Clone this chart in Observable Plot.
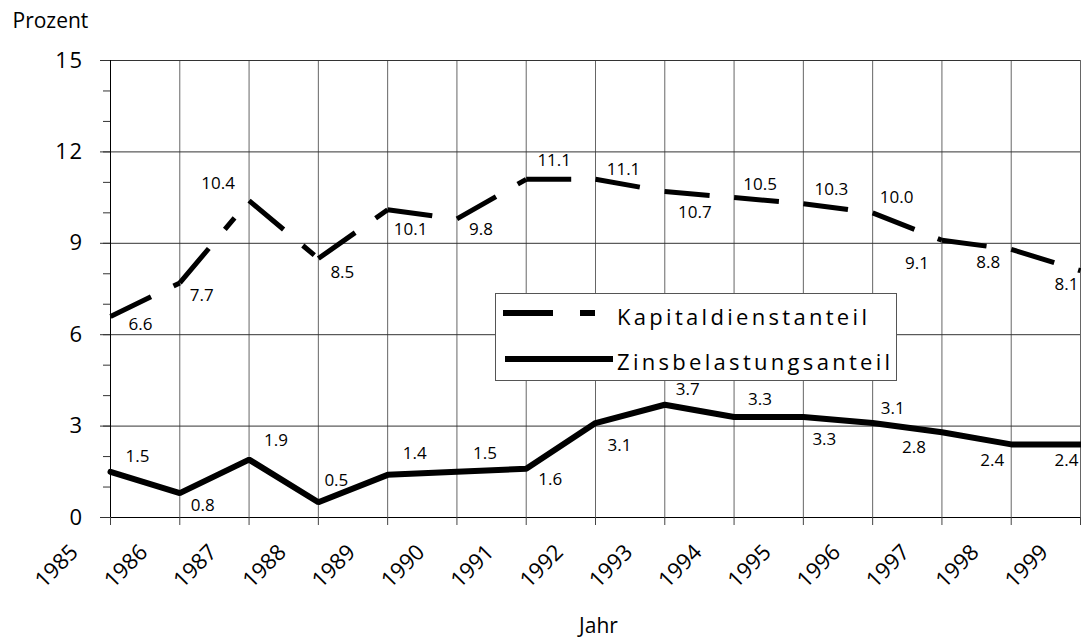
<!DOCTYPE html>
<html>
<head>
<meta charset="utf-8">
<script src="https://cdn.jsdelivr.net/npm/d3@7"></script>
<script src="https://cdn.jsdelivr.net/npm/@observablehq/plot@0.6"></script>
<style>
  html, body { margin: 0; padding: 0; background: #fff; }
  #wrap { position: relative; width: 1081px; height: 639px; font-family: "Open Sans", sans-serif; }
  g[aria-label="data-labels"] text { letter-spacing: 1.5px; }
  g[aria-label="year-labels"] text { letter-spacing: 1px; }
  g[aria-label="y-axis tick label"] text { letter-spacing: 1.5px; }
  g[aria-label="y-title"] text { letter-spacing: 3px; }
  g[aria-label="x-title"] text { letter-spacing: 6px; }
  #legend { position: absolute; left: 495px; top: 293px; width: 402px; height: 88px; background: #fff; border: 1px solid #555; box-sizing: border-box; }
  #legend text { font-family: "Open Sans", sans-serif; font-size: 22px; letter-spacing: 3.3px; fill: #000; }
</style>
</head>
<body>
<div id="wrap"></div>
<script>
const years = [1985,1986,1987,1988,1989,1990,1991,1992,1993,1994,1995,1996,1997,1998,1999];
const kapital = [6.6,7.7,10.4,8.5,10.1,9.8,11.1,11.1,10.7,10.5,10.3,10.0,9.1,8.8,8.1];
const zins = [1.5,0.8,1.9,0.5,1.4,1.5,1.6,3.1,3.7,3.3,3.3,3.1,2.8,2.4,2.4];
const yTicks = [0,3,6,9,12,15];
const seriesNames = ["Kapitaldienstanteil","Zinsbelastungsanteil"];
const xTitle = "Jahr";
const yTitle = "Prozent";
// label placement offsets (pixels) relative to each point
const kapLabelOffsets = [[30,8],[22,13],[-31,-17],[24,14],[23,20],[24,11],[28,-19],[28,-10],[30,21],[26,-13],[28,-14],[24,-15],[-25,23],[-23,13],[-14,14]];
const zinsLabelOffsets = [[27,-15],[23,12],[27,-19],[18,-22],[27,-21],[28,-18],[24,11],[24,22],[23,-15],[26,-17],[21,23],[20,-15],[-28,15],[-19,16],[-14,16]];

const kapSegs = d3.range(years.length - 1).map(i => ({x1: years[i], y1: kapital[i], x2: years[i+1], y2: kapital[i+1]}));
const zinsData = years.map((y, i) => ({year: y, v: zins[i]}));

const labelMarks = [];
years.forEach((yr, i) => {
  labelMarks.push(Plot.text([{x: yr, y: kapital[i]}], {x: "x", y: "y", text: d => d.y.toFixed(1), dx: kapLabelOffsets[i][0], dy: kapLabelOffsets[i][1], fontSize: 17, fill: "#000", ariaLabel: "data-labels"}));
  labelMarks.push(Plot.text([{x: yr, y: zins[i]}], {x: "x", y: "y", text: d => d.y.toFixed(1), dx: zinsLabelOffsets[i][0], dy: zinsLabelOffsets[i][1], fontSize: 17, fill: "#000", ariaLabel: "data-labels"}));
});

const chart = Plot.plot({
  width: 1081,
  height: 639,
  marginLeft: 110,
  marginRight: 1,
  marginTop: 60,
  marginBottom: 122,
  style: {fontFamily: "'Open Sans', sans-serif", background: "#fff", color: "#000"},
  x: {domain: [1985, 1999], axis: null},
  y: {domain: [0, 15], axis: null},
  marks: [
    Plot.gridX(years, {stroke: "#666", strokeOpacity: 1}),
    Plot.gridY(yTicks.filter(d => d > 0), {stroke: "#333", strokeOpacity: 1}),
    Plot.ruleX([1985], {stroke: "#000"}),
    Plot.ruleY([0], {stroke: "#000"}),
    Plot.axisX({ticks: years, tickSize: 8, tickFormat: () => "", label: null, stroke: "#444"}),
    Plot.axisY({ticks: d3.range(0, 16), tickSize: 7, tickFormat: () => "", label: null, stroke: "#333"}),
    Plot.axisY({ticks: yTicks, tickSize: 10, tickPadding: 17, fontSize: 22, label: null, stroke: "#333"}),
    Plot.text(years, {x: d => d, frameAnchor: "bottom", lineAnchor: "bottom", text: d => String(d), rotate: -45, textAnchor: "end", dx: -31, dy: 36, fontSize: 22, fill: "#000", ariaLabel: "year-labels"}),
    Plot.line(zinsData, {x: "year", y: "v", stroke: "#000", strokeWidth: 6, strokeLinejoin: "miter"}),
    Plot.link(kapSegs, {x1: "x1", y1: "y1", x2: "x2", y2: "y2", stroke: "#000", strokeWidth: 5, strokeDasharray: "45,25,15,25", strokeLinecap: "butt"}),
    ...labelMarks,
    Plot.text([yTitle], {frameAnchor: "top-left", lineAnchor: "middle", textAnchor: "start", dx: -98, dy: -39, fontSize: 21, fill: "#000", ariaLabel: "y-title"}),
    Plot.text([xTitle], {frameAnchor: "bottom", lineAnchor: "middle", dy: 109, dx: 3, fontSize: 21, fill: "#000", ariaLabel: "x-title"})
  ]
});

const wrap = document.getElementById("wrap");
wrap.appendChild(chart);

const legend = document.createElement("div");
legend.id = "legend";
legend.innerHTML = `<svg width="400" height="86">
  <line x1="7" y1="19" x2="100" y2="19" stroke="#000" stroke-width="6" stroke-dasharray="50,27,15,27"/>
  <text x="121" y="31">${seriesNames[0]}</text>
  <line x1="9" y1="65" x2="117" y2="65" stroke="#000" stroke-width="6"/>
  <text x="121" y="76">${seriesNames[1]}</text>
</svg>`;
wrap.appendChild(legend);
</script>
</body>
</html>
